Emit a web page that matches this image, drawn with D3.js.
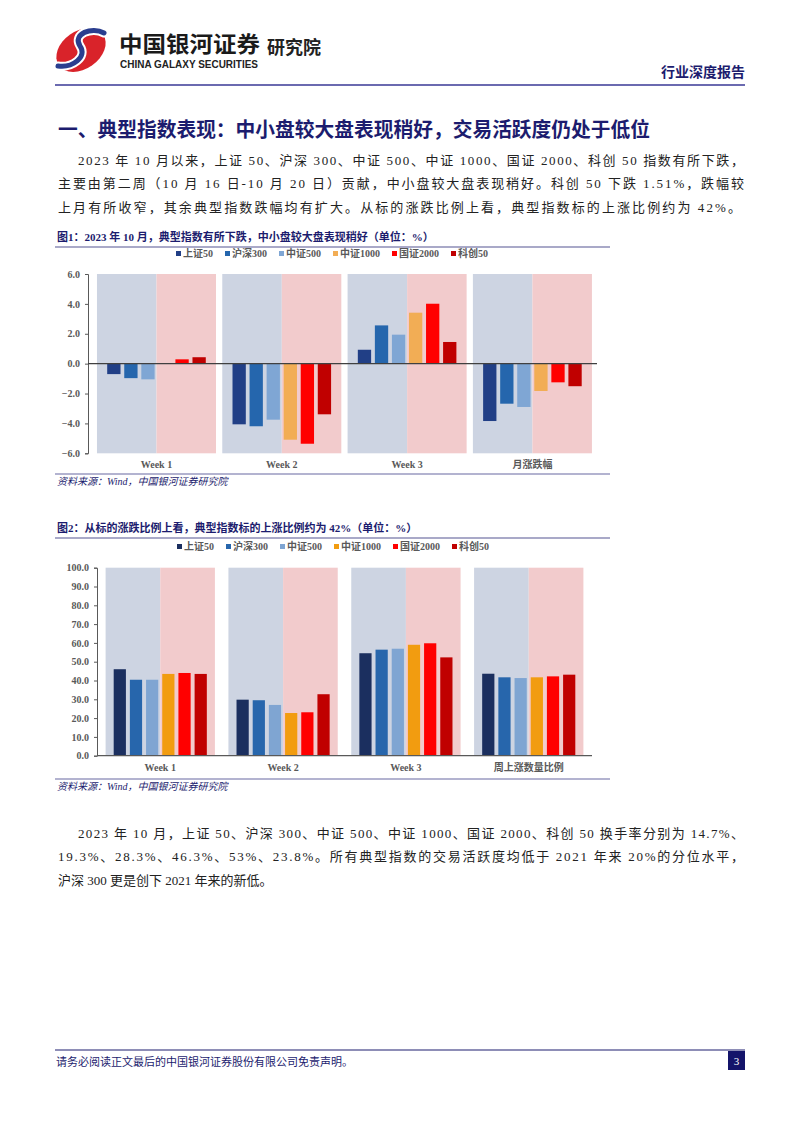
<!DOCTYPE html>
<html><head><meta charset="utf-8">
<script src="https://cdn.jsdelivr.net/npm/d3@7/dist/d3.min.js"></script>
<style>
body{margin:0;background:#fff;}
svg{display:block;}
text{font-family:"Liberation Serif","Noto Sans CJK SC",serif;}
</style></head>
<body>
<svg id="page" width="802" height="1133"></svg>
<script>
// ---------- data ----------
const series = ["上证50","沪深300","中证500","中证1000","国证2000","科创50"];
const categories1 = ["Week 1","Week 2","Week 3","月涨跌幅"];
const categories2 = ["Week 1","Week 2","Week 3","周上涨数量比例"];
// chart 1: weekly / monthly returns (%)
const sz50    = [-0.70,-4.06, 0.93,-3.84];
const hs300   = [-0.97,-4.19, 2.56,-2.68];
const zz500   = [-1.05,-3.75, 1.94,-2.90];
const zz1000  = [ 0.00,-5.09, 3.41,-1.83];
const gz2000  = [ 0.29,-5.36, 4.01,-1.25];
const kc50    = [ 0.43,-3.39, 1.45,-1.51];
// chart 2: share of constituents up (%)
const sz50Up   = [46.0,29.8,54.5,43.6];
const hs300Up  = [40.4,29.5,56.4,41.7];
const zz500Up  = [40.4,27.0,56.9,41.3];
const zz1000Up = [43.5,22.7,59.0,41.7];
const gz2000Up = [44.0,23.1,59.8,42.2];
const kc50Up   = [43.5,32.7,52.3,43.1];
const ticks1 = [-6,-4,-2,0,2,4,6];
const ticks2 = [0,10,20,30,40,50,60,70,80,90,100];

const colors1 = ["#213F86","#2566AD","#7FA6D4","#F2AD55","#FF0000","#C00000"];
const colors2 = ["#1B2F5F","#2766AC","#7FA5D2","#F29C10","#FF0000","#C00000"];
const bgBlue = "#CDD4E2", bgPink = "#F2CBCC";
const navy = "#1c1c6e";

const svg = d3.select("#page");

// ---------- header ----------
const logo = svg.append("g");
logo.append("ellipse").attr("cx",81).attr("cy",50).attr("rx",27).attr("ry",19)
  .attr("transform","rotate(-35,81,50)").attr("fill","#D9232A");
logo.append("path").attr("d","M104,33 C92,26 72,34 80,46 C88,57 72,68 58,66")
  .attr("fill","none").attr("stroke","#fff").attr("stroke-width",9).attr("stroke-linecap","round");
logo.append("path").attr("d","M104,33 C92,26 72,34 80,46 C88,57 72,68 58,66")
  .attr("fill","none").attr("stroke","#2A3E8F").attr("stroke-width",5).attr("stroke-linecap","round");
svg.append("text").attr("x",119).attr("y",52).attr("font-size",22).attr("font-weight","bold")
  .attr("fill","#1a1a1a").attr("textLength",141).attr("lengthAdjust","spacingAndGlyphs")
  .style("font-family","'Noto Sans CJK SC'").text("中国银河证券");
svg.append("text").attr("x",267).attr("y",54).attr("font-size",18).attr("font-weight","bold")
  .attr("fill","#222").style("font-family","'Noto Sans CJK SC'").text("研究院");
svg.append("text").attr("x",120).attr("y",68).attr("font-size",10).attr("font-weight","bold")
  .attr("fill","#222").attr("textLength",138).attr("lengthAdjust","spacingAndGlyphs")
  .style("font-family","'Liberation Sans'").text("CHINA GALAXY SECURITIES");
svg.append("text").attr("x",745).attr("y",77).attr("font-size",14).attr("font-weight","bold")
  .attr("text-anchor","end").attr("fill",navy).text("行业深度报告");
svg.append("line").attr("x1",55).attr("x2",745).attr("y1",85).attr("y2",85)
  .attr("stroke","#3A3896").attr("stroke-width",1.5);

// ---------- title and paragraph ----------
svg.append("text").attr("x",58).attr("y",137).attr("font-size",20).attr("font-weight","bold")
  .attr("fill",navy).attr("textLength",592).attr("lengthAdjust","spacingAndGlyphs")
  .text("一、典型指数表现：中小盘较大盘表现稍好，交易活跃度仍处于低位");

function para(lines, y0){
  lines.forEach((l,i)=>{
    const t = svg.append("text").attr("x",l.x).attr("y",y0+i*23.3).attr("font-size",13)
      .attr("fill","#222").text(l.t);
    if(l.w) t.attr("textLength",l.w).attr("lengthAdjust","spacing");
  });
}
para([
 {x:78,w:666,t:"2023 年 10 月以来，上证 50、沪深 300、中证 500、中证 1000、国证 2000、科创 50 指数有所下跌，"},
 {x:58,w:686,t:"主要由第二周（10 月 16 日-10 月 20 日）贡献，中小盘较大盘表现稍好。科创 50 下跌 1.51%，跌幅较"},
 {x:58,w:683,t:"上月有所收窄，其余典型指数跌幅均有扩大。从标的涨跌比例上看，典型指数标的上涨比例约为 42%。"}
],165);
para([
 {x:78,w:666,t:"2023 年 10 月，上证 50、沪深 300、中证 500、中证 1000、国证 2000、科创 50 换手率分别为 14.7%、"},
 {x:58,w:686,t:"19.3%、28.3%、46.3%、53%、23.8%。所有典型指数的交易活跃度均低于 2021 年来 20%的分位水平，"},
 {x:58,t:"沪深 300 更是创下 2021 年来的新低。"}
],838);

// ---------- chart helper ----------
function chart(o){
  svg.append("text").attr("x",57).attr("y",o.capY).attr("font-size",11).attr("font-weight","bold")
    .attr("fill",navy).text(o.caption);
  svg.append("line").attr("x1",55).attr("x2",610).attr("y1",o.capY+6).attr("y2",o.capY+6)
    .attr("stroke","#8C8CB6").attr("stroke-width",1.5);
  let lx = o.legX;
  series.forEach((s,i)=>{
    svg.append("rect").attr("x",lx).attr("y",o.legY-6).attr("width",5).attr("height",5).attr("fill",o.colors[i]);
    const t = svg.append("text").attr("x",lx+7).attr("y",o.legY).attr("font-size",10).attr("font-weight","bold")
      .attr("fill","#595959").text(s);
    lx += 7 + t.node().getComputedTextLength() + 12;
  });
  const x = d3.scaleBand().domain(o.cats).range(o.xr).paddingInner(o.pi).paddingOuter(o.po);
  const xi = d3.scaleBand().domain(series).range([0,x.bandwidth()]).paddingInner(o.ipi).paddingOuter(o.ipo);
  const y = d3.scaleLinear().domain(o.yd).range(o.yr);
  const g = svg.append("g");
  o.cats.forEach(c=>{
    const x0 = x(c), w = x.bandwidth();
    g.append("rect").attr("x",x0).attr("y",y(o.yd[1])).attr("width",w/2).attr("height",y(o.yd[0])-y(o.yd[1])).attr("fill",bgBlue);
    g.append("rect").attr("x",x0+w/2).attr("y",y(o.yd[1])).attr("width",w/2).attr("height",y(o.yd[0])-y(o.yd[1])).attr("fill",bgPink);
  });
  o.values.forEach((arr,si)=>{
    arr.forEach((v,ci)=>{
      const c = o.cats[ci];
      g.append("rect").attr("x",x(c)+xi(series[si])).attr("width",xi.bandwidth())
        .attr("y",y(Math.max(0,v))).attr("height",Math.abs(y(v)-y(0)))
        .attr("fill",o.colors[si]);
    });
  });
  const ya = svg.append("g").attr("transform",`translate(${o.axX},0)`)
    .call(d3.axisLeft(y).tickValues(o.ticks).tickFormat(d3.format(".1f")).tickSizeOuter(0).tickSize(3).tickPadding(5));
  ya.select(".domain").attr("stroke","#595959");
  ya.selectAll(".tick line").attr("stroke","#595959");
  ya.selectAll("text").attr("font-size",10).attr("font-weight","bold").attr("fill","#595959")
    .style("font-family","'Liberation Serif'");
  svg.append("line").attr("x1",o.axX).attr("x2",o.zeroEnd).attr("y1",y(0)).attr("y2",y(0))
    .attr("stroke",o.zeroColor).attr("stroke-width",1.2);
  o.cats.forEach(c=>{
    svg.append("text").attr("x",x(c)+x.bandwidth()/2).attr("y",o.catY).attr("text-anchor","middle")
      .attr("font-size",10).attr("font-weight","bold").attr("fill","#595959").text(c);
  });
  svg.append("line").attr("x1",55).attr("x2",610).attr("y1",o.srcLine).attr("y2",o.srcLine)
    .attr("stroke","#9A9AC0").attr("stroke-width",1.5);
  svg.append("text").attr("x",57).attr("y",o.srcLine+11).attr("font-size",10).attr("font-style","italic")
    .attr("fill",navy).text("资料来源：Wind，中国银河证券研究院");
}

chart({
  caption:"图1：2023 年 10 月，典型指数有所下跌，中小盘较大盘表现稍好（单位：%）",
  capY:241, legX:176, legY:257, cats:categories1, colors:colors1,
  values:[sz50,hs300,zz500,zz1000,gz2000,kc50],
  xr:[90.7,598.2], pi:0.05, po:0.05, ipi:0.22, ipo:0.6,
  yd:[-6,6], yr:[453.3,274], ticks:ticks1, axX:88, zeroEnd:597, zeroColor:"#404040",
  catY:468, srcLine:474
});
chart({
  caption:"图2：从标的涨跌比例上看，典型指数标的上涨比例约为 42%（单位：%）",
  capY:532, legX:177, legY:550, cats:categories2, colors:colors2,
  values:[sz50Up,hs300Up,zz500Up,zz1000Up,gz2000Up,kc50Up],
  xr:[97,592], pi:0.11, po:0.07, ipi:0.245, ipo:0.5,
  yd:[0,100], yr:[755.7,567.7], ticks:ticks2, axX:97, zeroEnd:592, zeroColor:"#595959",
  catY:771, srcLine:779
});

// ---------- footer ----------
svg.append("line").attr("x1",55).attr("x2",745).attr("y1",1050).attr("y2",1050)
  .attr("stroke",navy).attr("stroke-width",1);
svg.append("text").attr("x",56).attr("y",1066).attr("font-size",11).attr("fill",navy)
  .text("请务必阅读正文最后的中国银河证券股份有限公司免责声明。");
svg.append("rect").attr("x",728).attr("y",1051).attr("width",17).attr("height",19).attr("fill","#14146a");
svg.append("text").attr("x",736.5).attr("y",1065).attr("text-anchor","middle").attr("font-size",11)
  .attr("fill","#fff").text("3");
</script>
</body></html>
